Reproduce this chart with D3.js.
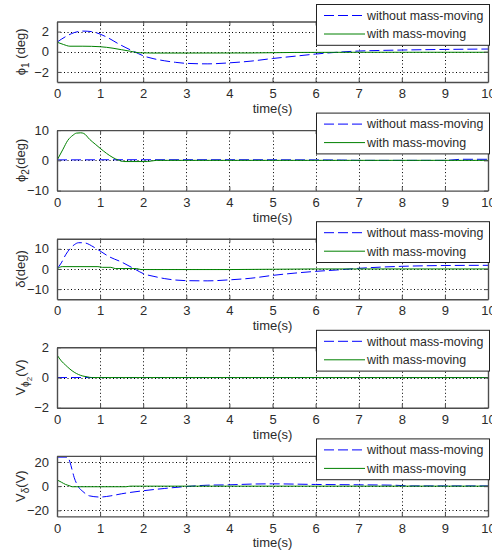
<!DOCTYPE html>
<html>
<head>
<meta charset="utf-8">
<script src="https://cdn.jsdelivr.net/npm/d3@7"></script>
<style>
  html, body { margin: 0; padding: 0; background: #fff; }
  svg { display: block; }
  text { font-family: "Liberation Sans", Arial, Helvetica, sans-serif; fill: #2b2b2b; }
</style>
</head>
<body>
<svg id="chart" width="492" height="554"></svg>
<script>
// ---- time axis ----
const timeDomain = [0, 10];
const timeTicks = [0, 1, 2, 3, 4, 5, 6, 7, 8, 9, 10];
const legendLabels = ["without mass-moving", "with mass-moving"];

// ---- phi1 (deg) ----
const phi1WithoutT = [0, 0.2, 0.4, 0.6, 0.8, 1, 1.2, 1.4, 1.6, 1.8, 2, 2.25, 2.5, 2.75, 3, 3.5, 4, 4.5, 5, 5.5, 6, 6.5, 7, 7.5, 8, 9, 10];
const phi1Without  = [0.95, 1.5, 1.9, 2.05, 2.0, 1.75, 1.35, 0.85, 0.4, 0, -0.4, -0.7, -0.9, -1.05, -1.15, -1.2, -1.1, -0.93, -0.67, -0.45, -0.23, -0.05, 0.07, 0.13, 0.17, 0.23, 0.27];
const phi1WithT    = [0, 0.15, 0.3, 0.6, 1, 1.3, 1.5, 1.7, 1.9, 2.2, 3, 4.5, 5.5, 7, 10];
const phi1With     = [0.95, 0.72, 0.55, 0.55, 0.5, 0.35, 0.2, 0.05, -0.1, -0.13, -0.13, -0.12, -0.07, -0.05, -0.05];
const phi1Ticks    = [-2, 0, 2];

// ---- phi2 (deg) ----
const phi2WithoutT = [0, 2, 4, 6, 6.6, 7, 9, 9.4, 10];
const phi2Without  = [0.15, 0.2, 0.2, 0.15, 0.1, 0, 0, 0.35, 0.35];
const phi2WithT    = [0, 0.14, 0.25, 0.37, 0.45, 0.55, 0.62, 0.76, 0.9, 1.0, 1.15, 1.3, 1.42, 1.55, 2.1, 2.3, 10];
const phi2With     = [0, 3.7, 6.6, 8.3, 9.0, 9.1, 8.9, 6.9, 5.2, 4.0, 2.3, 0.9, 0.1, -0.4, -0.4, 0, 0];
const phi2Ticks    = [-10, 0, 10];

// ---- delta (deg) ----
const deltaWithoutT = [0, 0.1, 0.2, 0.3, 0.4, 0.5, 0.6, 0.7, 0.8, 1, 1.2, 1.5, 1.8, 2, 2.25, 2.5, 3, 3.5, 4, 4.5, 5, 5.5, 6, 6.5, 7, 7.5, 8, 9, 10];
const deltaWithout  = [0, 3, 7, 10, 12, 13, 13, 12.6, 11.5, 8.9, 6.2, 3.4, 0, -2.3, -3.7, -4.8, -5.8, -5.9, -5.4, -4.6, -3.2, -2.1, -1.2, -0.5, 0.3, 0.9, 1.3, 1.7, 1.8];
const deltaWithT    = [0, 0.12, 0.95, 1.05, 1.25, 1.35, 1.85, 1.95, 4, 6, 10];
const deltaWith     = [0, 1.15, 1.15, 0.8, 0.8, 0.2, 0.2, -0.3, -0.3, 0, 0];
const deltaTicks    = [-10, 0, 10];

// ---- V_phi2 (V) ----
const vPhiWithoutT = [0, 10];
const vPhiWithout  = [0, 0];
const vPhiWithT    = [0, 0.1, 0.2, 0.3, 0.4, 0.5, 0.6, 0.7, 0.8, 10];
const vPhiWith     = [1.5, 1.1, 0.82, 0.56, 0.35, 0.2, 0.1, 0.05, 0, 0];
const vPhiTicks    = [-2, 0, 2];

// ---- V_delta (V) ----
const vDeltaWithoutT = [0, 0.25, 0.3, 0.35, 0.4, 0.45, 0.5, 0.6, 0.75, 1, 1.25, 1.5, 2, 2.5, 3, 3.5, 4, 4.5, 5, 6, 7, 7.8, 8.2, 10];
const vDeltaWithout  = [24, 24, 20, 13.5, 7, 2.5, -0.8, -4.4, -8, -9, -8, -6.3, -3.8, -1.9, -0.3, 0.8, 1.1, 1.7, 1.9, 1.4, 1.1, 0.8, 0.2, 0.2];
const vDeltaWithT    = [0, 0.1, 0.2, 0.3, 0.35, 1.6, 1.7, 10];
const vDeltaWith     = [5.2, 3.3, 1.4, 0.2, -0.5, -0.5, 0, 0];
const vDeltaTicks    = [-20, 0, 20];

const zip = (ts, vs) => ts.map((t, i) => [t, vs[i]]);

// label pieces: [text, subscript level]
const panels = [
  { domain: [-3, 3],   ticks: phi1Ticks,   label: [["ϕ", 0], ["1", 1], [" (deg)", 0]],
    without: zip(phi1WithoutT, phi1Without), withM: zip(phi1WithT, phi1With) },
  { domain: [-10, 10], ticks: phi2Ticks,   label: [["ϕ", 0], ["2", 1], ["(deg)", 0]],
    without: zip(phi2WithoutT, phi2Without), withM: zip(phi2WithT, phi2With) },
  { domain: [-15, 15], ticks: deltaTicks,  label: [["δ(deg)", 0]],
    without: zip(deltaWithoutT, deltaWithout), withM: zip(deltaWithT, deltaWith) },
  { domain: [-2, 2],   ticks: vPhiTicks,   label: [["V", 0], ["ϕ", 1], ["2", 2], ["(V)", 0]],
    without: zip(vPhiWithoutT, vPhiWithout), withM: zip(vPhiWithT, vPhiWith) },
  { domain: [-25, 25], ticks: vDeltaTicks, label: [["V", 0], ["δ", 1], ["(V)", 0]],
    without: zip(vDeltaWithoutT, vDeltaWithout), withM: zip(vDeltaWithT, vDeltaWith) }
];

// ---- layout ----
const left = 57, right = 488;
const firstTop = 21.5, step = 108.6, plotH = 60.5;
const blue = "#0000ff", green = "#008000";
const axisColor = "#4d4d4d";
const tickLen = 4;
const subShift = [0, 4, 7];

const svg = d3.select("#chart");
const x = d3.scaleLinear().domain(timeDomain).range([left, right]);

panels.forEach((p, k) => {
  const top = firstTop + k * step;
  const bottom = top + plotH;
  const y = d3.scaleLinear().domain(p.domain).range([bottom, top]);
  const g = svg.append("g");

  g.append("rect").attr("x", left).attr("y", top)
    .attr("width", right - left).attr("height", plotH).attr("fill", "#fff");

  // dotted grid at interior ticks
  const grid = g.append("g").attr("stroke", "#000").attr("stroke-width", 1)
    .attr("stroke-dasharray", "1,2.5");
  timeTicks.filter(t => t > timeDomain[0] && t < timeDomain[1]).forEach(t => {
    grid.append("line").attr("x1", Math.round(x(t)) + 0.5).attr("x2", Math.round(x(t)) + 0.5)
      .attr("y1", top).attr("y2", bottom);
  });
  p.ticks.filter(v => v > p.domain[0] && v < p.domain[1]).forEach(v => {
    grid.append("line").attr("x1", left).attr("x2", right)
      .attr("y1", Math.round(y(v)) + 0.5).attr("y2", Math.round(y(v)) + 0.5);
  });

  // data lines: blue dashed first, green solid on top
  const clipId = "clip" + k;
  svg.append("clipPath").attr("id", clipId).append("rect")
    .attr("x", left).attr("y", top).attr("width", right - left).attr("height", plotH);
  const line = d3.line().x(d => x(d[0])).y(d => y(d[1])).curve(d3.curveMonotoneX);
  const lines = g.append("g").attr("clip-path", `url(#${clipId})`).attr("fill", "none");
  lines.append("path").attr("d", line(p.without)).attr("stroke", blue)
    .attr("stroke-width", 1).attr("stroke-dasharray", "10,4");
  lines.append("path").attr("d", line(p.withM)).attr("stroke", green).attr("stroke-width", 1);

  // boxed axes with inward ticks
  const fmt = d3.format("d");
  const xAxisB = d3.axisBottom(x).tickValues(timeTicks).tickFormat(fmt).tickSizeInner(-tickLen).tickSizeOuter(0).tickPadding(7);
  const xAxisT = d3.axisTop(x).tickValues(timeTicks).tickSizeInner(-tickLen).tickSizeOuter(0).tickFormat("");
  const yAxisL = d3.axisLeft(y).tickValues(p.ticks).tickFormat(fmt).tickSizeInner(-tickLen).tickSizeOuter(0).tickPadding(8);
  const yAxisR = d3.axisRight(y).tickValues(p.ticks).tickSizeInner(-tickLen).tickSizeOuter(0).tickFormat("");

  const styleAxis = sel => {
    sel.select(".domain").attr("stroke", axisColor).attr("stroke-width", 1.4);
    sel.selectAll(".tick line").attr("stroke", axisColor).attr("stroke-width", 1);
    sel.selectAll(".tick text").attr("fill", "#2b2b2b")
      .style("font-family", '"Liberation Sans", Arial, sans-serif').style("font-size", "13px");
  };
  g.append("g").attr("transform", `translate(0,${bottom})`).call(xAxisB).call(styleAxis);
  g.append("g").attr("transform", `translate(0,${top})`).call(xAxisT).call(styleAxis);
  g.append("g").attr("transform", `translate(${left},0)`).call(yAxisL).call(styleAxis);
  g.append("g").attr("transform", `translate(${right},0)`).call(yAxisR).call(styleAxis);

  // x label
  g.append("text").attr("x", (left + right) / 2).attr("y", bottom + 31)
    .attr("text-anchor", "middle").style("font-size", "13px").text("time(s)");

  // y label with (nested) subscripts
  const yl = g.append("text")
    .attr("transform", `translate(25,${(top + bottom) / 2}) rotate(-90)`)
    .attr("text-anchor", "middle").style("font-size", "13px");
  let level = 0;
  p.label.forEach(([s, lv]) => {
    const ts = yl.append("tspan").text(s);
    const shift = subShift[lv] - subShift[level];
    if (shift !== 0) ts.attr("dy", shift);
    if (lv > 0) ts.style("font-size", lv === 1 ? "10px" : "8px");
    level = lv;
  });

  // legend
  const lx0 = 316, lx1 = 489;
  const ly0 = top - 17.5, ly1 = top + 23.3;
  const lg = svg.append("g");
  lg.append("rect").attr("x", lx0 + 0.5).attr("y", ly0 + 0.5)
    .attr("width", lx1 - lx0).attr("height", ly1 - ly0)
    .attr("fill", "#fff").attr("stroke", "#222").attr("stroke-width", 1);
  const rows = [top - 6, top + 12.5];
  [[blue, "10,4"], [green, null]].forEach(([c, dash], i) => {
    const l = lg.append("line").attr("x1", 324).attr("x2", 365)
      .attr("y1", rows[i]).attr("y2", rows[i]).attr("stroke", c).attr("stroke-width", 1);
    if (dash) l.attr("stroke-dasharray", dash);
    lg.append("text").attr("x", 367).attr("y", rows[i]).attr("dy", "0.35em")
      .style("font-size", "12.4px").text(legendLabels[i]);
  });
});
</script>
</body>
</html>
